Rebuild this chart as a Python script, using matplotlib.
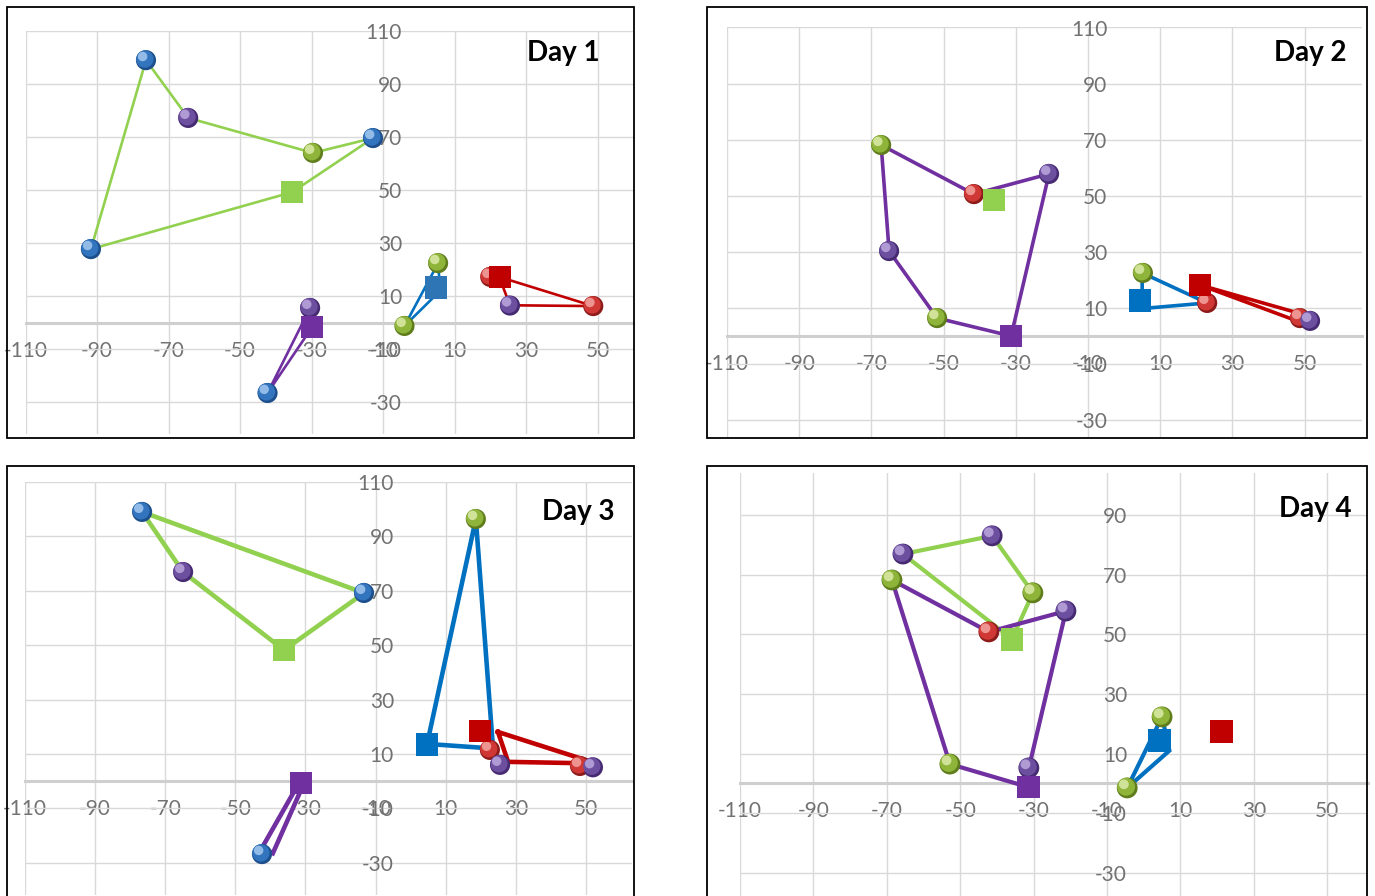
import matplotlib
matplotlib.use("Agg")
import matplotlib.pyplot as plt
from matplotlib import transforms
from matplotlib.patches import Rectangle

plt.rcParams['font.family'] = ['Lato', 'DejaVu Sans']
plt.rcParams['axes.unicode_minus'] = False

# ---- data ----
x_ticks = [-110, -90, -70, -50, -30, -10, 10, 30, 50]
y_ticks = [110, 90, 70, 50, 30, 10, -10, -30]

# Day 1
d1_green_x = [-76.3, -64.5, -29.6, -12.8, -35.4, -91.7, -76.3]
d1_green_y = [99.0, 77.2, 64.0, 69.6, 49.2, 27.7, 99.0]
d1_purple_x = [-42.3, -30.4, -29.8, -42.3]
d1_purple_y = [-26.6, 5.5, -1.7, -26.6]
d1_blue_x = [-4.0, 5.4, 6.0, -4.0]
d1_blue_y = [-1.3, 22.4, 12.0, -1.3]
d1_red_x = [22.5, 48.8, 25.5, 22.5]
d1_red_y = [17.2, 6.2, 6.5, 17.2]
d1_sphere_x = [-76.3, -64.5, -29.6, -12.8, -91.7, -30.4, -42.3, 5.4, -4.0, 25.5, 48.8, 20.0]
d1_sphere_y = [99.0, 77.2, 64.0, 69.6, 27.7, 5.5, -26.6, 22.4, -1.3, 6.4, 6.2, 17.2]
d1_sphere_c = ['blue', 'purple', 'green', 'blue', 'blue', 'purple', 'blue', 'green', 'green', 'purple', 'red', 'red']
d1_square_x = [-35.4, -29.8, 4.8, 22.7]
d1_square_y = [49.2, -1.7, 13.2, 17.2]
d1_square_c = ['green', 'purple', 'lightblue', 'red']

# Day 2
d2_purple_x = [-67.3, -41.6, -20.8, -31.3, -51.8, -65.1, -67.3]
d2_purple_y = [68.1, 50.6, 57.8, 0.0, 6.4, 30.3, 68.1]
d2_blue_x = [5.0, 23.0, 5.0, 5.0]
d2_blue_y = [22.5, 11.8, 9.8, 22.5]
d2_red_x = [21.0, 51.5, 48.7, 21.0]
d2_red_y = [18.2, 7.0, 5.0, 18.2]
d2_sphere_x = [-67.3, -41.6, -20.8, -51.8, -65.1, 5.2, 23.0, 48.7, 51.5]
d2_sphere_y = [68.1, 50.6, 57.8, 6.4, 30.3, 22.5, 11.8, 6.4, 5.4]
d2_sphere_c = ['green', 'red', 'purple', 'green', 'purple', 'green', 'red', 'red', 'purple']
d2_square_x = [-36.0, -31.3, 4.4, 21.0]
d2_square_y = [48.5, 0.0, 12.7, 18.2]
d2_square_c = ['green', 'purple', 'blue', 'red']

# Day 3
d3_green_x = [-76.6, -13.3, -36.1, -64.9, -76.6]
d3_green_y = [99.0, 69.2, 48.2, 76.9, 99.0]
d3_purple_x = [-32.0, -42.4, -39.3, -30.5]
d3_purple_y = [-1.0, -24.5, -26.5, -1.0]
d3_blue_x = [4.7, 18.6, 23.5, 4.7]
d3_blue_y = [13.7, 96.4, 12.0, 13.7]
d3_red_x = [24.9, 53.0, 27.8, 24.9]
d3_red_y = [18.1, 6.5, 7.1, 18.1]
d3_sphere_x = [-76.6, -64.9, -13.3, -42.4, 18.6, 22.6, 25.5, 48.3, 52.0]
d3_sphere_y = [99.0, 76.9, 69.2, -26.8, 96.4, 11.5, 6.0, 5.6, 5.1]
d3_sphere_c = ['blue', 'purple', 'blue', 'blue', 'green', 'red', 'purple', 'red', 'purple']
d3_square_x = [-36.1, -31.3, 4.7, 19.8]
d3_square_y = [48.2, -0.7, 13.5, 18.5]
d3_square_c = ['green', 'purple', 'blue', 'red']

# Day 4
d4_green_x = [-65.6, -41.3, -30.2, -35.9, -65.6]
d4_green_y = [76.9, 83.0, 63.9, 48.4, 76.9]
d4_purple_x = [-68.6, -42.2, -21.2, -31.3, -31.5, -52.8, -68.6]
d4_purple_y = [68.2, 50.8, 57.8, 5.2, -1.2, 6.5, 68.2]
d4_blue_x = [-4.5, 5.0, 7.0, -4.5]
d4_blue_y = [-1.5, 22.3, 11.0, -1.5]
d4_sphere_x = [-65.6, -41.3, -30.2, -68.6, -42.2, -21.2, -31.3, -52.8, 5.0, -4.5]
d4_sphere_y = [76.9, 83.0, 63.9, 68.2, 50.8, 57.8, 5.2, 6.5, 22.3, -1.5]
d4_sphere_c = ['purple', 'purple', 'green', 'green', 'red', 'purple', 'purple', 'green', 'green', 'green']
d4_square_x = [-35.9, -31.5, 4.3, 21.3]
d4_square_y = [48.4, -1.2, 14.4, 17.3]
d4_square_c = ['green', 'purple', 'blue', 'red']

# ---- styles ----
line_col = {'green': '#92D050', 'purple': '#7030A0', 'blue': '#0070C0',
            'lightblue': '#2E75B6', 'red': '#C00000'}
# sphere shading: dark rim, body, highlight
sphere_col = {
    'blue':   ('#1d4f8c', '#3274bd', '#a4c8ef'),
    'green':  ('#5f7d1c', '#8fb43a', '#dcebaa'),
    'purple': ('#462a72', '#6d4fa0', '#bca8dd'),
    'red':    ('#8c1b19', '#cf3834', '#f3a4a1'),
}

W, H = 1375, 896

panels = [
    dict(title='Day 1', xlim=(-110, 60), ylim=(-42, 110), box=(25.5, 633.3, 31, 433.8),
         frame=(7, 634, 7, 438), title_at=(600, 53), lw=1.9, ms=14.5,
         lines=[('green', d1_green_x, d1_green_y), ('purple', d1_purple_x, d1_purple_y),
                ('blue', d1_blue_x, d1_blue_y), ('red', d1_red_x, d1_red_y)],
         spheres=(d1_sphere_x, d1_sphere_y, d1_sphere_c),
         squares=(d1_square_x, d1_square_y, d1_square_c)),
    dict(title='Day 2', xlim=(-110, 66), ylim=(-36, 110), box=(727, 1362.4, 27.5, 437),
         frame=(707, 1367, 7, 438), title_at=(1347, 53), lw=2.6, ms=14.5,
         lines=[('purple', d2_purple_x, d2_purple_y), ('blue', d2_blue_x, d2_blue_y),
                ('red', d2_red_x, d2_red_y)],
         spheres=(d2_sphere_x, d2_sphere_y, d2_sphere_c),
         squares=(d2_square_x, d2_square_y, d2_square_c)),
    dict(title='Day 3', xlim=(-110, 63), ylim=(-42, 110), box=(25, 631.5, 482, 895.4),
         frame=(7, 634, 466, 910), title_at=(614, 512), lw=3.3, ms=14.5,
         lines=[('green', d3_green_x, d3_green_y), ('purple', d3_purple_x, d3_purple_y),
                ('blue', d3_blue_x, d3_blue_y), ('red', d3_red_x, d3_red_y)],
         spheres=(d3_sphere_x, d3_sphere_y, d3_sphere_c),
         squares=(d3_square_x, d3_square_y, d3_square_c)),
    dict(title='Day 4', xlim=(-110, 61), ylim=(-38, 104), box=(740, 1367.6, 473.2, 896.8),
         frame=(707, 1367, 466, 910), title_at=(1352, 509), lw=3.0, ms=15,
         lines=[('green', d4_green_x, d4_green_y), ('purple', d4_purple_x, d4_purple_y),
                ('blue', d4_blue_x, d4_blue_y)],
         spheres=(d4_sphere_x, d4_sphere_y, d4_sphere_c),
         squares=(d4_square_x, d4_square_y, d4_square_c)),
]

fig = plt.figure(figsize=(W / 100, H / 100), dpi=100)
fig.patch.set_facecolor('white')


def draw_panel(p):
    l, r, t, b = p['box']
    ax = fig.add_axes([l / W, 1 - b / H, (r - l) / W, (b - t) / H])
    ax.set_xlim(*p['xlim'])
    ax.set_ylim(*p['ylim'])
    ax.set_xticks(x_ticks)
    ax.set_yticks([v for v in y_ticks if v <= p['ylim'][1]])
    ax.grid(True, color='#d9d9d9', lw=1.0)
    ax.set_axisbelow(True)
    for s in ['top', 'right', 'left']:
        ax.spines[s].set_visible(False)
    ax.spines['bottom'].set_position(('data', 0))
    ax.spines['left'].set_position(('data', 0))
    ax.spines['bottom'].set_color('#cfcfcf')
    ax.spines['bottom'].set_linewidth(2.2)
    ax.spines['bottom'].set_zorder(0.6)
    ax.tick_params(length=0, labelsize=15, labelcolor='#727272')
    ax.tick_params(axis='x', pad=13)
    ax.tick_params(axis='y', pad=12)

    for name, xs, ys in p['lines']:
        ax.plot(xs, ys, color=line_col[name], lw=p['lw'], solid_joinstyle='miter', zorder=2)

    # spheres: dark rim, body shifted up-left, small highlight
    sx, sy, sc = p['spheres']
    s = p['ms'] ** 2
    rim = [sphere_col[c][0] for c in sc]
    body = [sphere_col[c][1] for c in sc]
    hi = [sphere_col[c][2] for c in sc]
    off1 = transforms.offset_copy(ax.transData, fig=fig, x=-0.8, y=0.8, units='points')
    off2 = transforms.offset_copy(ax.transData, fig=fig, x=-2.4, y=2.6, units='points')
    ax.scatter(sx, sy, s=s, c=rim, linewidths=0, zorder=3)
    ax.scatter(sx, sy, s=s * 0.74, c=body, linewidths=0, zorder=3.1, transform=off1)
    ax.scatter(sx, sy, s=s * 0.22, c=hi, linewidths=0, alpha=0.85, zorder=3.2, transform=off2)

    qx, qy, qc = p['squares']
    ax.scatter(qx, qy, s=(p['ms'] + 1.5) ** 2, marker='s', c=[line_col[c] for c in qc],
               linewidths=0, zorder=4)

    fx0, fx1, fy0, fy1 = p['frame']
    fig.add_artist(Rectangle((fx0 / W, 1 - fy1 / H), (fx1 - fx0) / W, (fy1 - fy0) / H,
                             transform=fig.transFigure, fill=False, ec='black', lw=1.3))
    tx, ty = p['title_at']
    fig.text(tx / W, 1 - ty / H, p['title'], ha='right', va='center',
             fontsize=20, fontweight='bold', color='black')


for p in panels:
    draw_panel(p)

fig.savefig('out.png', dpi=100)
